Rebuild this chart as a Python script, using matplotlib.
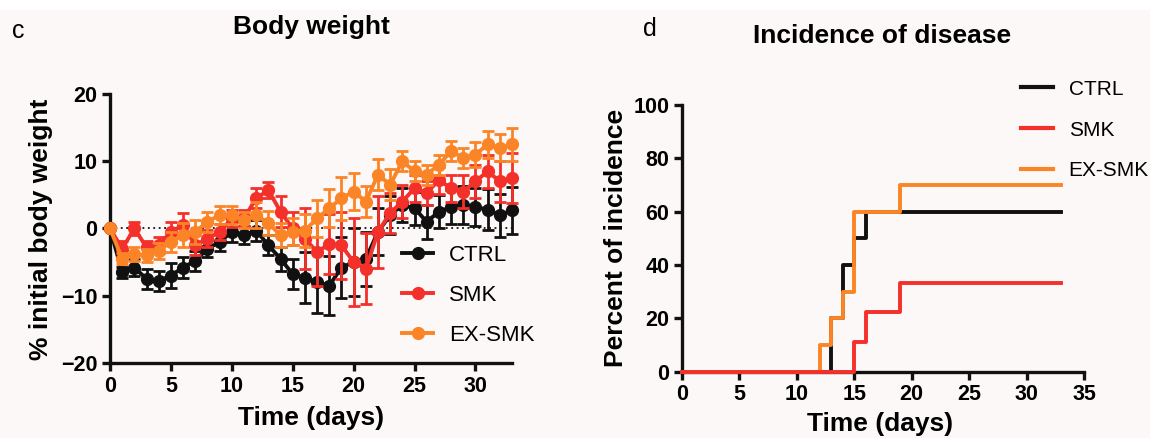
import matplotlib
matplotlib.use("Agg")
import matplotlib.pyplot as plt
from matplotlib.lines import Line2D
from matplotlib.patches import Rectangle

plt.rcParams["font.family"] = ["Liberation Sans", "DejaVu Sans"]

# ---- data: body weight (% of initial), mean and SEM per day ----
days = list(range(34))
ctrl_w = [0, -6.5, -5.8, -7.5, -7.8, -7.0, -5.8, -4.8, -3.0, -2.0, -0.5, -1.0, -0.3, -2.5,
          -4.5, -6.8, -7.3, -8.0, -8.5, -5.8, -5.0, -4.5, -0.5, 2.0, 3.5, 3.0, 1.0, 2.5,
          3.2, 3.5, 3.2, 2.8, 2.0, 2.7]
ctrl_e = [0, 0.8, 1.2, 1.5, 1.5, 1.8, 1.5, 1.5, 1.3, 1.3, 1.5, 1.3, 1.5, 1.5, 1.8, 2.2,
          3.8, 4.5, 4.4, 4.5, 5.0, 4.0, 3.5, 2.8, 2.5, 2.5, 2.5, 2.5, 2.5, 2.8, 2.8, 3.0,
          3.2, 3.5]
smk_w = [0, -3.0, 0.0, -2.8, -2.5, -0.5, 0.5, -2.5, -1.5, -0.5, 1.5, 1.5, 4.5, 5.7, 2.5,
         0.0, -1.5, -3.5, -2.3, -2.5, -5.0, -6.0, -0.5, 2.3, 4.0, 6.0, 5.3, 7.2, 6.0, 5.5,
         7.0, 8.5, 7.0, 7.5]
smk_e = [0, 1.2, 1.0, 1.0, 1.2, 1.5, 1.8, 1.5, 1.3, 1.2, 1.3, 1.2, 1.5, 1.2, 2.3, 2.5,
         4.5, 5.0, 4.5, 5.0, 6.5, 5.3, 5.3, 3.0, 2.5, 2.0, 1.8, 2.0, 2.0, 2.5, 2.5, 2.5,
         3.0, 3.7]
ex_w = [0, -4.5, -3.8, -4.0, -3.3, -2.0, -1.0, -0.5, 1.0, 2.0, 2.0, 1.2, 2.0, 0.8, -1.0,
        -0.5, -0.3, 1.5, 3.0, 4.5, 5.5, 4.0, 8.0, 6.5, 10.0, 8.5, 8.0, 9.5, 11.5, 10.5,
        11.0, 12.5, 12.0, 12.5]
ex_e = [0, 0.8, 1.0, 1.0, 1.2, 1.5, 1.8, 1.8, 1.5, 1.3, 1.3, 1.2, 2.0, 1.8, 1.8, 2.0,
        2.5, 2.8, 2.8, 3.2, 2.8, 2.3, 2.3, 2.3, 1.5, 1.5, 1.5, 1.5, 1.5, 1.5, 1.8, 2.0,
        2.0, 2.5]

# ---- data: cumulative incidence (%) step points ----
ctrl_t = [0, 13, 14, 15, 16, 33]
ctrl_i = [0, 20, 40, 50, 60, 60]
smk_t = [0, 15, 16, 19, 33]
smk_i = [0, 11.1, 22.2, 33.3, 33.3]
ex_t = [0, 12, 13, 14, 15, 19, 33]
ex_i = [0, 10, 20, 30, 60, 70, 70]

labels = ["CTRL", "SMK", "EX-SMK"]
colors = ["#111111", "#f4302a", "#fb8526"]

W, H = 1150, 438
bg = "#fcf8f7"
fig = plt.figure(figsize=(W / 100, H / 100), dpi=100, facecolor=bg)
fig.patches.append(Rectangle((0, 1 - 10 / H), 1, 10 / H, transform=fig.transFigure,
                             facecolor="white", edgecolor="none", zorder=0))


def px_axes(x0, x1, y_top, y_bot):
    return [x0 / W, 1 - y_bot / H, (x1 - x0) / W, (y_bot - y_top) / H]


def style_axes(ax):
    ax.set_facecolor(bg)
    for s in ("top", "right"):
        ax.spines[s].set_visible(False)
    for s in ("left", "bottom"):
        ax.spines[s].set_linewidth(2.4)
        ax.spines[s].set_color("#111111")
    ax.tick_params(width=2.4, length=6, labelsize=15.5, color="#111111", pad=3)
    for lab in ax.get_xticklabels() + ax.get_yticklabels():
        lab.set_fontweight("bold")


# ---- left panel: body weight ----
ax1 = fig.add_axes(px_axes(110, 512, 94, 363))
ax1.plot([0, 33], [0, 0], ls=(0, (1, 2)), color="#111111", lw=1.3, zorder=1)
series = [(ctrl_w, ctrl_e, 0), (ex_w, ex_e, 2), (smk_w, smk_e, 1)]
for w, e, k in series:
    ax1.errorbar(days, w, yerr=e, color=colors[k], lw=2.8, marker="o", ms=8.5,
                 elinewidth=2.0, capsize=4, capthick=2.0, clip_on=False, zorder=3 + k)
ax1.set_xlim(0, 33)
ax1.set_ylim(-20, 20)
ax1.set_xticks(range(0, 31, 5))
ax1.set_yticks(range(-20, 21, 10))
style_axes(ax1)
handles1 = [Line2D([], [], color=c, lw=2.8, marker="o", ms=8.5) for c in colors]
ax1.legend(handles1, labels, loc="upper left", bbox_to_anchor=(0.677, 0.513),
           frameon=False, fontsize=16, handlelength=1.4, labelspacing=0.85,
           handletextpad=0.7)

# ---- right panel: incidence ----
ax2 = fig.add_axes(px_axes(682, 1084, 105, 371.7))
for t, v, k, z in [(ctrl_t, ctrl_i, 0, 3), (ex_t, ex_i, 2, 4), (smk_t, smk_i, 1, 5)]:
    ax2.step(t, v, where="post", color=colors[k], lw=2.8, clip_on=False, zorder=z)
ax2.set_xlim(0, 35)
ax2.set_ylim(0, 100)
ax2.set_xticks(range(0, 36, 5))
ax2.set_yticks(range(0, 101, 20))
style_axes(ax2)
handles2 = [Line2D([], [], color=c, lw=3.0) for c in colors]
fig.legend(handles2, labels, loc="upper left", bbox_to_anchor=(1002 / W, 1 - 61 / H),
           frameon=False, fontsize=15, handlelength=1.55, labelspacing=1.05,
           handletextpad=0.75)

# ---- axis labels, titles and panel letters (placed in pixels) ----
def ftext(x, y, s, **kw):
    fig.text(x / W, 1 - y / H, s, ha="center", va="center", **kw)


ftext(311, 418, "Time (days)", fontsize=19, fontweight="bold")
ftext(880, 424, "Time (days)", fontsize=19, fontweight="bold")
ftext(41, 229, "% initial body weight", fontsize=19, fontweight="bold", rotation=90)
ftext(616, 238, "Percent of incidence", fontsize=19, fontweight="bold", rotation=90)
ftext(311, 27, "Body weight", fontsize=19, fontweight="bold")
ftext(882, 36, "Incidence of disease", fontsize=19, fontweight="bold")
ftext(18, 31, "c", fontsize=18)
ftext(650, 29, "d", fontsize=18)

fig.savefig("out.png", dpi=100, facecolor=bg)
